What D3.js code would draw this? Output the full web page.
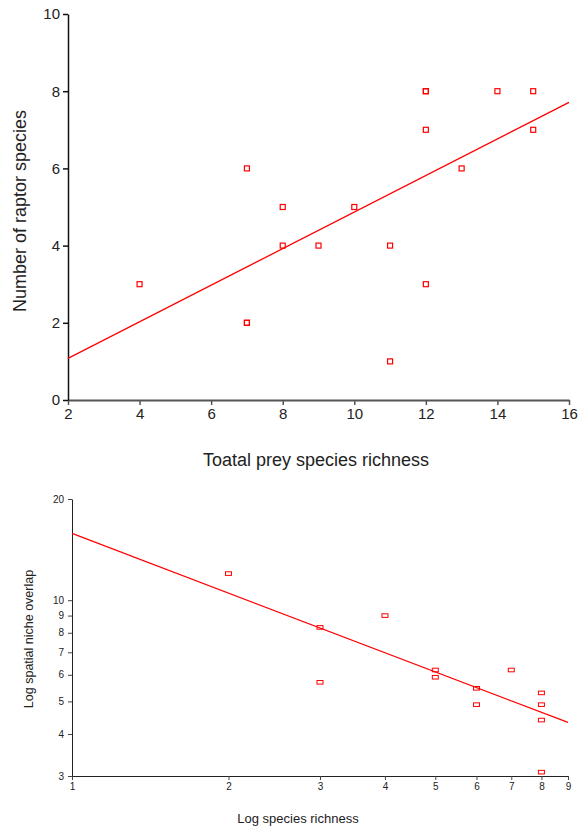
<!DOCTYPE html>
<html>
<head>
<meta charset="utf-8">
<script src="https://cdn.jsdelivr.net/npm/d3@7"></script>
<style>
	body { margin: 0; background: #fff; }
	svg { display: block; font-family: 'Liberation Sans', Arial, sans-serif; }
	.axis text { fill: #222; }
</style>
</head>
<body>
<svg id="chart" width="581" height="829"></svg>
<script>
// top panel: prey richness vs raptor species
var preyRichness = [4, 7, 7, 7, 8, 8, 9, 10, 11, 11, 12, 12, 12, 12, 13, 14, 15, 15];
var raptorSpecies = [3, 6, 2, 2, 5, 4, 4, 5, 4, 1, 8, 8, 7, 3, 6, 8, 8, 7];
var topTrendX = [2, 16];
var topTrendY = [1.08, 7.71];
var topXTicks = [2, 4, 6, 8, 10, 12, 14, 16];
var topYTicks = [0, 2, 4, 6, 8, 10];

// bottom panel: log-log richness vs niche overlap
var speciesRichness = [2, 3, 3, 4, 5, 5, 6, 6, 7, 8, 8, 8, 8];
var nicheOverlap = [12, 8.3, 5.7, 9, 6.2, 5.9, 5.47, 4.89, 6.2, 5.3, 4.89, 4.4, 3.08];
var botTrendX = [1, 9];
var botTrendY = [15.8, 4.33];
var botXTicks = [1, 2, 3, 4, 5, 6, 7, 8, 9];
var botYTicks = [3, 4, 5, 6, 7, 8, 9, 10, 20];

var svg = d3.select('#chart');
var red = '#ff0000';

// ---------- top chart ----------
var x1 = d3.scaleLinear().domain([2, 16]).range([68, 569]);
var y1 = d3.scaleLinear().domain([0, 10]).range([400, 14]);

var topG = svg.append('g');

topG.append('g').attr('class', 'axis')
	.attr('transform', 'translate(0,400)')
	.call(d3.axisBottom(x1).tickValues(topXTicks).tickSize(5).tickPadding(3).tickSizeOuter(0))
	.call(function(g) {
		g.select('.domain').attr('stroke', '#555').attr('stroke-width', 2);
		g.selectAll('.tick line').attr('stroke', '#555').attr('stroke-width', 1.5);
		g.selectAll('text').attr('font-size', 15).attr('font-family', 'Liberation Sans, Arial, sans-serif');
	});

topG.append('g').attr('class', 'axis')
	.attr('transform', 'translate(68,0)')
	.call(d3.axisLeft(y1).tickValues(topYTicks).tickSize(5).tickPadding(3).tickSizeOuter(0))
	.call(function(g) {
		g.select('.domain').attr('stroke', '#111').attr('stroke-width', 1.5);
		g.selectAll('.tick line').attr('stroke', '#111').attr('stroke-width', 1.5);
		g.selectAll('text').attr('font-size', 15).attr('font-family', 'Liberation Sans, Arial, sans-serif');
	});

topG.append('line')
	.attr('x1', x1(topTrendX[0])).attr('y1', y1(topTrendY[0]))
	.attr('x2', x1(topTrendX[1])).attr('y2', y1(topTrendY[1]))
	.attr('stroke', red).attr('stroke-width', 1.3);

topG.selectAll('.pt')
	.data(preyRichness).enter()
	.append('rect')
	.attr('class', 'pt')
	.attr('x', function(d) { return x1(d) - 2.5; })
	.attr('y', function(d, i) { return y1(raptorSpecies[i]) - 2.5; })
	.attr('width', 5).attr('height', 5)
	.attr('fill', 'none').attr('stroke', red).attr('stroke-width', 1.2);

topG.append('text')
	.attr('transform', 'translate(26,211) rotate(-90)')
	.attr('text-anchor', 'middle')
	.attr('font-size', 18).attr('fill', '#222')
	.text('Number of raptor species');

topG.append('text')
	.attr('x', 316).attr('y', 466)
	.attr('text-anchor', 'middle')
	.attr('font-size', 18).attr('fill', '#222')
	.text('Toatal prey species richness');

// ---------- bottom chart ----------
var x2 = d3.scaleLog().domain([1, 9]).range([72, 568]);
var y2 = d3.scaleLog().domain([3, 20]).range([776, 499]);

var botG = svg.append('g');

botG.append('g').attr('class', 'axis')
	.attr('transform', 'translate(0,776)')
	.call(d3.axisBottom(x2).tickValues(botXTicks).tickFormat(d3.format('d')).tickSize(4).tickPadding(3).tickSizeOuter(0))
	.call(function(g) {
		g.select('.domain').attr('stroke', '#222').attr('stroke-width', 1);
		g.selectAll('.tick line').attr('stroke', '#444');
		g.selectAll('text').attr('font-size', 10).attr('font-family', 'Liberation Sans, Arial, sans-serif');
	});

botG.append('g').attr('class', 'axis')
	.attr('transform', 'translate(72,0)')
	.call(d3.axisLeft(y2).tickValues(botYTicks).tickFormat(d3.format('d')).tickSize(4).tickPadding(4).tickSizeOuter(0))
	.call(function(g) {
		g.select('.domain').attr('stroke', '#222').attr('stroke-width', 1);
		g.selectAll('.tick line').attr('stroke', '#444');
		g.selectAll('text').attr('font-size', 10).attr('font-family', 'Liberation Sans, Arial, sans-serif');
	});

botG.append('line')
	.attr('x1', x2(botTrendX[0])).attr('y1', y2(botTrendY[0]))
	.attr('x2', x2(botTrendX[1])).attr('y2', y2(botTrendY[1]))
	.attr('stroke', red).attr('stroke-width', 1.2);

botG.selectAll('.pt2')
	.data(speciesRichness).enter()
	.append('rect')
	.attr('class', 'pt2')
	.attr('x', function(d) { return x2(d) - 3; })
	.attr('y', function(d, i) { return y2(nicheOverlap[i]) - 1.8; })
	.attr('width', 6).attr('height', 3.6)
	.attr('fill', 'none').attr('stroke', red).attr('stroke-width', 1);

botG.append('text')
	.attr('transform', 'translate(33,639) rotate(-90)')
	.attr('text-anchor', 'middle')
	.attr('font-size', 12.5).attr('fill', '#222')
	.text('Log spatial niche overlap');

botG.append('text')
	.attr('x', 298).attr('y', 823)
	.attr('text-anchor', 'middle')
	.attr('font-size', 13).attr('fill', '#222')
	.text('Log species richness');
</script>
</body>
</html>
